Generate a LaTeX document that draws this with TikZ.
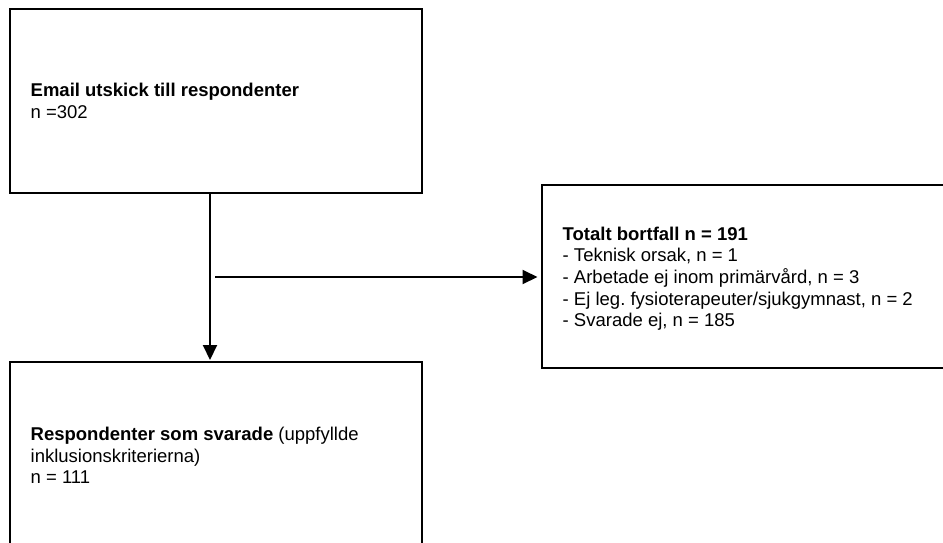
\documentclass[tikz,border=0pt]{standalone}
\usepackage{fontspec}
\setmainfont{Liberation Sans}
\usetikzlibrary{arrows.meta}
\frenchspacing
\begin{document}
\begin{tikzpicture}[x=1pt,y=-1pt,
  box/.style={draw=black, line width=2pt, inner sep=0pt, outer sep=0pt, anchor=north west},
  txt/.style={anchor=base west, inner sep=0pt, font=\fontsize{18.5}{21.7}\selectfont},
  arr/.style={line width=2pt, -{Triangle[length=15pt,width=14pt]}}]
\useasboundingbox (0,0) rectangle (943,542);
\clip (0,0) rectangle (943,542);
\node[box, minimum width=412pt, minimum height=184pt] (b1) at (10,8.5) {};
\node[box, minimum width=420pt, minimum height=183pt] (b2) at (541.5,185) {};
\node[box, minimum width=412pt, minimum height=200pt] (b3) at (10,362) {};
\node[txt] (t1) at (30.5,96.5) {\frenchspacing\vtop{\hbox{\textbf{Email utskick till respondenter}}\hbox{n =302}}};
\node[txt] (t2) at (562.5,240) {\frenchspacing\vtop{\hbox{\textbf{Totalt bortfall n = 191}}\hbox{- Teknisk orsak, n = 1}\hbox{- Arbetade ej inom primärvård, n = 3}\hbox{- Ej leg. fysioterapeuter/sjukgymnast, n = 2}\hbox{- Svarade ej, n = 185}}};
\node[txt] (t3) at (30.5,440.5) {\frenchspacing\vtop{\hbox{\textbf{Respondenter som svarade} (uppfyllde}\hbox{inklusionskriterierna)}\hbox{n = 111}}};
\coordinate (h) at (215,277);
\draw[arr, shorten >=2pt] (b1.south -| 210,0) -- (b3.north -| 210,0);
\draw[arr, shorten >=4pt] (h) -- (h -| b2.west);
\end{tikzpicture}
\end{document}
